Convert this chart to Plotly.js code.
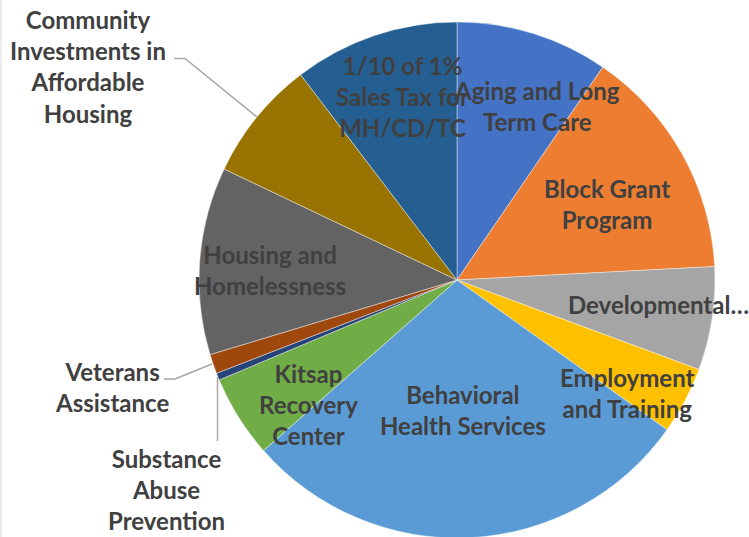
<!DOCTYPE html>
<html>
<head>
<meta charset="utf-8">
<script src="https://cdn.plot.ly/plotly-3.0.1.min.js"></script>
<style>
html,body{margin:0;padding:0;overflow:hidden;background:#fff;}
#chart{width:749px;height:540px;}
</style>
</head>
<body>
<div id="chart"></div>
<script>
// Data (approximate share of total, %)
const categories = [
  "Aging and Long Term Care",
  "Block Grant Program",
  "Developmental Disabilities",
  "Employment and Training",
  "Behavioral Health Services",
  "Kitsap Recovery Center",
  "Substance Abuse Prevention",
  "Veterans Assistance",
  "Housing and Homelessness",
  "Community Investments in Affordable Housing",
  "1/10 of 1% Sales Tax for MH/CD/TC"
];
const values = [9.56, 14.61, 6.47, 4.22, 28.64, 5.17, 0.44, 1.22, 11.75, 7.56, 10.36];
const displayLabels = [
  "Aging and Long<br>Term Care",
  "Block Grant<br>Program",
  "Developmental…",
  "Employment<br>and Training",
  "Behavioral<br>Health Services",
  "Kitsap<br>Recovery<br>Center",
  "Substance<br>Abuse<br>Prevention",
  "Veterans<br>Assistance",
  "Housing and<br>Homelessness",
  "Community<br>Investments in<br>Affordable<br>Housing",
  "1/10 of 1%<br>Sales Tax for<br>MH/CD/TC"
];

const colors = ["#4472C4","#ED7D31","#A5A5A5","#FFC000","#5B9BD5","#70AD47",
                "#264478","#9E480E","#636363","#997300","#255E91"];

const W = 749, H = 540;
const px = x => x / W;
const py = y => 1 - y / H;

// label placement (pixel centres)
const labelPos = [
  [537, 106], [607, 204], [658, 304], [627, 393], [463, 410], [308, 404],
  [166, 489], [112, 387], [270, 270], [88, 66], [402, 97]
];

const font = {family: "Lato, 'Open Sans', sans-serif", size: 24, color: "#404040", weight: "bold"};

const annotations = displayLabels.map((t, i) => ({
  text: "<b>" + t + "</b>",
  xref: "paper", yref: "paper",
  x: px(labelPos[i][0]), y: py(labelPos[i][1]),
  xanchor: "center", yanchor: "middle",
  showarrow: false, align: "center",
  font: font
}));

function seg(pts) {
  let d = "";
  pts.forEach((p, i) => { d += (i ? " L " : "M ") + px(p[0]) + "," + py(p[1]); });
  return d;
}
const leaderStyle = {color: "#A6A6A6", width: 1.5};
const shapes = [
  {type: "path", xref: "paper", yref: "paper", path: seg([[174, 58.5], [185, 58.5], [257, 117]]), line: leaderStyle},
  {type: "path", xref: "paper", yref: "paper", path: seg([[164, 379], [175, 379], [212, 364]]), line: leaderStyle},
  {type: "path", xref: "paper", yref: "paper", path: seg([[217.5, 441], [217.5, 377]]), line: leaderStyle},
  {type: "line", xref: "paper", yref: "paper", x0: px(1), x1: px(1), y0: 0, y1: 1, line: {color: "#D9D9D9", width: 1}}
];

const trace = {
  type: "pie",
  labels: categories,
  values: values,
  sort: false,
  direction: "clockwise",
  rotation: 0,
  textinfo: "none",
  hoverinfo: "label+percent",
  marker: {colors: colors, line: {color: "rgba(255,255,255,0.6)", width: 0.7}},
  domain: {x: [px(199), px(715)], y: [py(538), py(22)]},
  showlegend: false
};

Plotly.newPlot("chart", [trace], {
  width: W, height: H,
  margin: {l: 0, r: 0, t: 0, b: 0},
  paper_bgcolor: "#fff",
  showlegend: false,
  annotations: annotations,
  shapes: shapes
}, {displayModeBar: false, staticPlot: true});
</script>
</body>
</html>
